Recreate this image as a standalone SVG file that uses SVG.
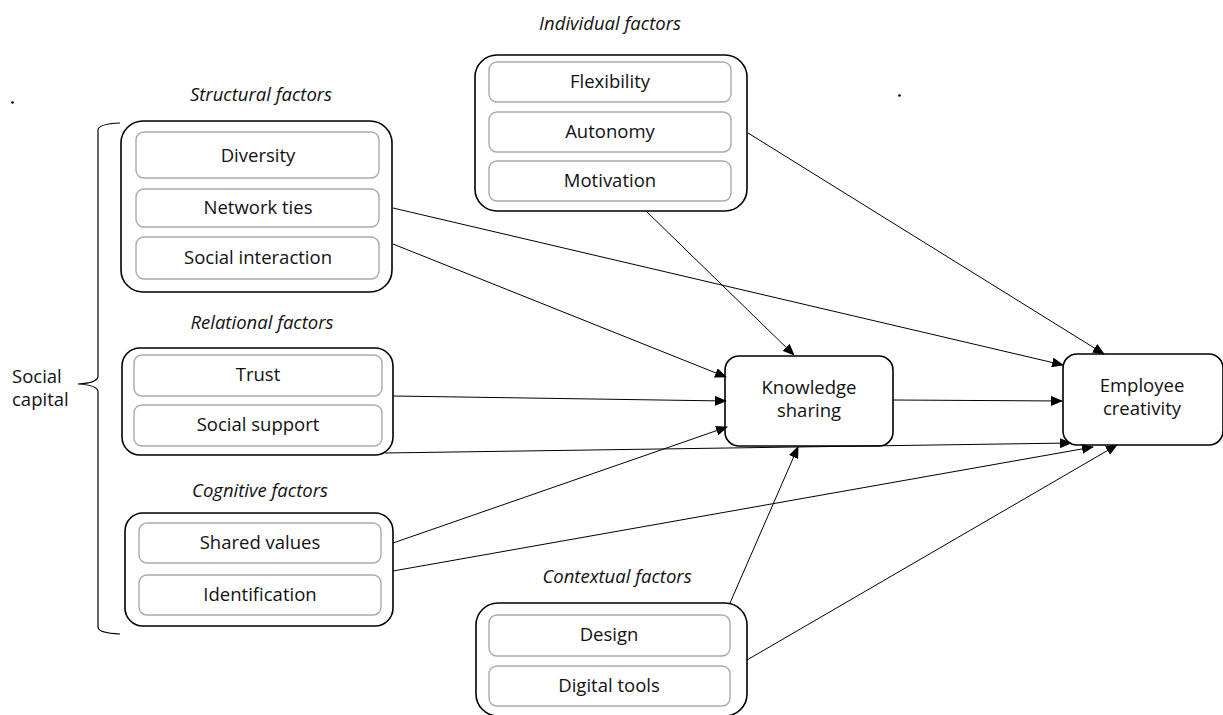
<svg xmlns="http://www.w3.org/2000/svg" width="1223" height="715" viewBox="0 0 1223 715">
<defs>
<marker id="ah" markerWidth="12" markerHeight="10" refX="11" refY="5" orient="auto" markerUnits="userSpaceOnUse">
<path d="M0,0 L12,5 L0,10 Z" fill="#000"/>
</marker>
<style>
.outer{fill:#fff;stroke:#000;stroke-width:1.6}
.inner{fill:#fff;stroke:#aaa;stroke-width:1.4}
.t{font-family:"Open Sans","Liberation Sans",sans-serif;font-size:18.5px;fill:#111;text-anchor:middle}
.h{font-family:"Open Sans","Liberation Sans",sans-serif;font-size:18.5px;font-style:italic;fill:#111;text-anchor:middle}
.c{fill:none;stroke:#000;stroke-width:1;marker-end:url(#ah)}
</style>
</defs>
<rect width="1223" height="715" fill="#fff"/>
<circle cx="12.5" cy="102.5" r="1.3" fill="#000"/>
<circle cx="899.5" cy="95.5" r="1.3" fill="#000"/>

<g id="social-capital">
<path d="M120,123 Q98,124 98,130 L98,376 Q98,383 78,384 Q98,385 98,392 L98,627 Q98,633 120,634" fill="none" stroke="#000" stroke-width="1.2"/>
<text class="t" x="12" y="383" style="text-anchor:start">Social</text>
<text class="t" x="12" y="406" style="text-anchor:start">capital</text>
</g>

<g id="structural">
<text class="h" x="261" y="101">Structural factors</text>
<rect class="outer" x="121" y="121" width="271" height="171" rx="22"/>
<rect class="inner" x="136" y="132" width="243" height="46" rx="8"/>
<text class="t" x="258" y="162">Diversity</text>
<rect class="inner" x="136" y="189" width="243" height="38" rx="8"/>
<text class="t" x="258" y="214">Network ties</text>
<rect class="inner" x="136" y="237" width="243" height="42" rx="8"/>
<text class="t" x="258" y="264">Social interaction</text>
</g>

<g id="individual">
<text class="h" x="610" y="30">Individual factors</text>
<rect class="outer" x="475" y="55" width="272" height="156" rx="22"/>
<rect class="inner" x="489" y="62" width="242" height="40" rx="8"/>
<text class="t" x="610" y="88">Flexibility</text>
<rect class="inner" x="489" y="112" width="242" height="40" rx="8"/>
<text class="t" x="610" y="138">Autonomy</text>
<rect class="inner" x="489" y="161" width="242" height="40" rx="8"/>
<text class="t" x="610" y="187">Motivation</text>
</g>

<g id="relational">
<text class="h" x="262" y="329">Relational factors</text>
<rect class="outer" x="122" y="348" width="271" height="107" rx="18"/>
<rect class="inner" x="134" y="355" width="248" height="41" rx="8"/>
<text class="t" x="258" y="381">Trust</text>
<rect class="inner" x="134" y="405" width="248" height="41" rx="8"/>
<text class="t" x="258" y="431">Social support</text>
</g>

<g id="cognitive">
<text class="h" x="260" y="497">Cognitive factors</text>
<rect class="outer" x="125" y="513" width="268" height="113" rx="18"/>
<rect class="inner" x="139" y="523" width="242" height="40" rx="8"/>
<text class="t" x="260" y="549">Shared values</text>
<rect class="inner" x="139" y="575" width="242" height="40" rx="8"/>
<text class="t" x="260" y="601">Identification</text>
</g>

<g id="contextual">
<text class="h" x="617" y="583">Contextual factors</text>
<rect class="outer" x="476" y="603" width="271" height="113" rx="22"/>
<rect class="inner" x="489" y="615" width="241" height="41" rx="8"/>
<text class="t" x="609" y="641">Design</text>
<rect class="inner" x="489" y="666" width="241" height="40" rx="8"/>
<text class="t" x="609" y="692">Digital tools</text>
</g>

<g id="knowledge-sharing">
<rect class="outer" x="725" y="356" width="168" height="90" rx="14"/>
<text class="t" x="809" y="394">Knowledge</text>
<text class="t" x="809" y="417">sharing</text>
</g>

<g id="employee-creativity">
<rect class="outer" x="1063" y="354" width="160" height="91" rx="14"/>
<text class="t" x="1142" y="392">Employee</text>
<text class="t" x="1142" y="415">creativity</text>
</g>

<g id="connectors">
<line class="c" x1="393" y1="208" x2="1063" y2="365"/>
<line class="c" x1="393" y1="244" x2="726" y2="377"/>
<line class="c" x1="646" y1="211" x2="794" y2="355"/>
<line class="c" x1="748" y1="133" x2="1104" y2="354"/>
<line class="c" x1="393" y1="396" x2="726" y2="401"/>
<line class="c" x1="893" y1="400" x2="1062" y2="401"/>
<line class="c" x1="385" y1="453" x2="1071" y2="443"/>
<line class="c" x1="393" y1="543" x2="727" y2="427"/>
<line class="c" x1="393" y1="571" x2="1093" y2="447"/>
<line class="c" x1="730" y1="603" x2="798" y2="447"/>
<line class="c" x1="747" y1="660" x2="1117" y2="445"/>
</g>
</svg>
